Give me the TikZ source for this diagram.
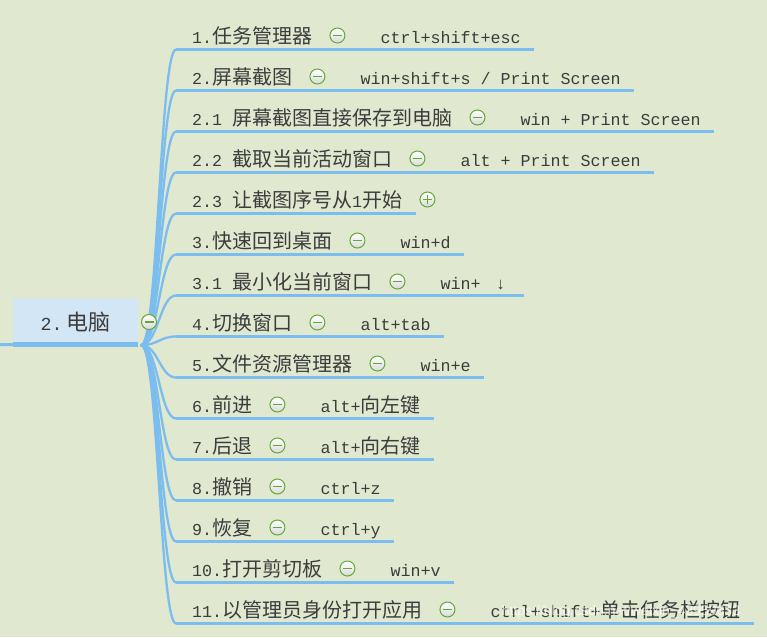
\documentclass[tikz,border=0pt]{standalone}
\usepackage{fontspec}
\usepackage{xcolor}
\usepackage{tikz}
\usetikzlibrary{positioning, calc}
\setmainfont{Liberation Mono}
\newfontfamily\cjkfont[Scale=1.2]{Noto Sans CJK SC}
\newfontfamily\wmfont{Liberation Sans}
\newcommand\zh[1]{{\cjkfont #1}}
\definecolor{paper}{HTML}{E0E8CF}
\definecolor{rootblue}{HTML}{D3E6F6}
\definecolor{linkblue}{HTML}{7BBDEE}
\definecolor{textgray}{HTML}{3C3C3C}
\definecolor{btngreen}{HTML}{62A935}
\definecolor{btnshade}{HTML}{DADADA}

\tikzset{
  topic/.style={anchor=base west, inner sep=0pt, text=textgray,
                font=\fontsize{16.67}{20}\selectfont},
  shortcut/.style={topic},
  rootbox/.style={fill=rootblue, minimum width=125pt, minimum height=49pt,
                  inner sep=0pt, text=textgray, font=\fontsize{18.33}{22}\selectfont},
  branch/.style={draw=linkblue, line width=2.3pt, line cap=round},
  underline/.style={draw=linkblue, line width=2.1pt},
  rootbar/.style={draw=linkblue, line width=5pt},
  btn/.style={circle, draw=btngreen, line width=1pt, minimum size=15pt, inner sep=0pt,
              top color=white, bottom color=btnshade},
  collapsebtn/.style={btn, path picture={
      \draw[btngreen, line width=1.3pt]
        ([xshift=-4.5pt]path picture bounding box.center) -- ([xshift=4.5pt]path picture bounding box.center);}},
  expandbtn/.style={btn, path picture={
      \draw[btngreen, line width=1.3pt]
        ([xshift=-4.5pt]path picture bounding box.center) -- ([xshift=4.5pt]path picture bounding box.center)
        ([yshift=-4.5pt]path picture bounding box.center) -- ([yshift=4.5pt]path picture bounding box.center);}},
  watermark/.style={inner sep=0pt, text=white, opacity=0.7, font=\wmfont\fontsize{14}{16}\selectfont}
}

\begin{document}
\begin{tikzpicture}[x=1pt, y=-1pt]
  \fill[paper] (0,0) rectangle (767,637);
  \useasboundingbox (0,0) rectangle (767,637);

  \node[rootbox] (root) at (75.5,322.5) {2.\kern4pt\zh{电脑}};
  \coordinate (hub) at ([shift={(3,-2)}]root.south east);
  \coordinate (parent) at (0,344.5);

  % topics with a shortcut
  \foreach \row/\lab/\key in {
      1/{1.\zh{任务管理器}}/{ctrl+shift+esc},
      2/{2.\zh{屏幕截图}}/{win+shift+s / Print Screen},
      3/{2.1 \zh{屏幕截图直接保存到电脑}}/{win + Print Screen},
      4/{2.2 \zh{截取当前活动窗口}}/{alt + Print Screen},
      6/{3.\zh{快速回到桌面}}/{win+d},
      7/{3.1 \zh{最小化当前窗口}}/{win+ \makebox[20pt]{↓}},
      8/{4.\zh{切换窗口}}/{alt+tab},
      9/{5.\zh{文件资源管理器}}/{win+e},
      10/{6.\zh{前进}}/{alt+\zh{向左键}},
      11/{7.\zh{后退}}/{alt+\zh{向右键}},
      12/{8.\zh{撤销}}/{ctrl+z},
      13/{9.\zh{恢复}}/{ctrl+y},
      14/{10.\zh{打开剪切板}}/{win+v},
      15/{11.\zh{以管理员身份打开应用}}/{ctrl+shift+\zh{单击任务栏按钮}}} {
    \pgfmathsetmacro\ypos{8.5+41*\row}
    \pgfmathsetmacro\ybase{\ypos-6.5}
    \node[topic] (t\row) at (192,\ybase) {\lab};
    \node[collapsebtn] (c\row) at ($(t\row.base east)+(25,-7.5)$) {};
    \node[shortcut] (k\row) at ($(t\row.base east)+(68,0)$) {\key};
    \coordinate (s\row) at (176,\ypos);
    \coordinate (e\row) at ($(k\row.base east)+(13,6.5)$);
    \draw[branch] (hub) .. controls (158,345) and (160,\ypos) .. (s\row);
    \draw[underline] (s\row) -- (e\row);
  }

  % folded topic
  \node[topic] (t5) at (192,207) {2.3 \zh{让截图序号从}1\zh{开始}};
  \node[expandbtn] (c5) at ($(t5.base east)+(25,-7.5)$) {};
  \coordinate (s5) at (176,213.5);
  \coordinate (e5) at ($(t5.base east)+(14,6.5)$);
  \draw[branch] (hub) .. controls (158,345) and (160,213.5) .. (s5);
  \draw[underline] (s5) -- (e5);

  \draw[branch, line width=3pt, line cap=butt] (parent) -- ([yshift=2.5pt]root.south west);
  \draw[rootbar] ([yshift=2.5pt]root.south west) -- ([yshift=2.5pt]root.south east);
  \node[collapsebtn] (rootbtn) at (149,322) {};

  \node[watermark] (wm) at (621,612) {https://blog.csdn.net/weixin\_43959833};
\end{tikzpicture}
\end{document}
